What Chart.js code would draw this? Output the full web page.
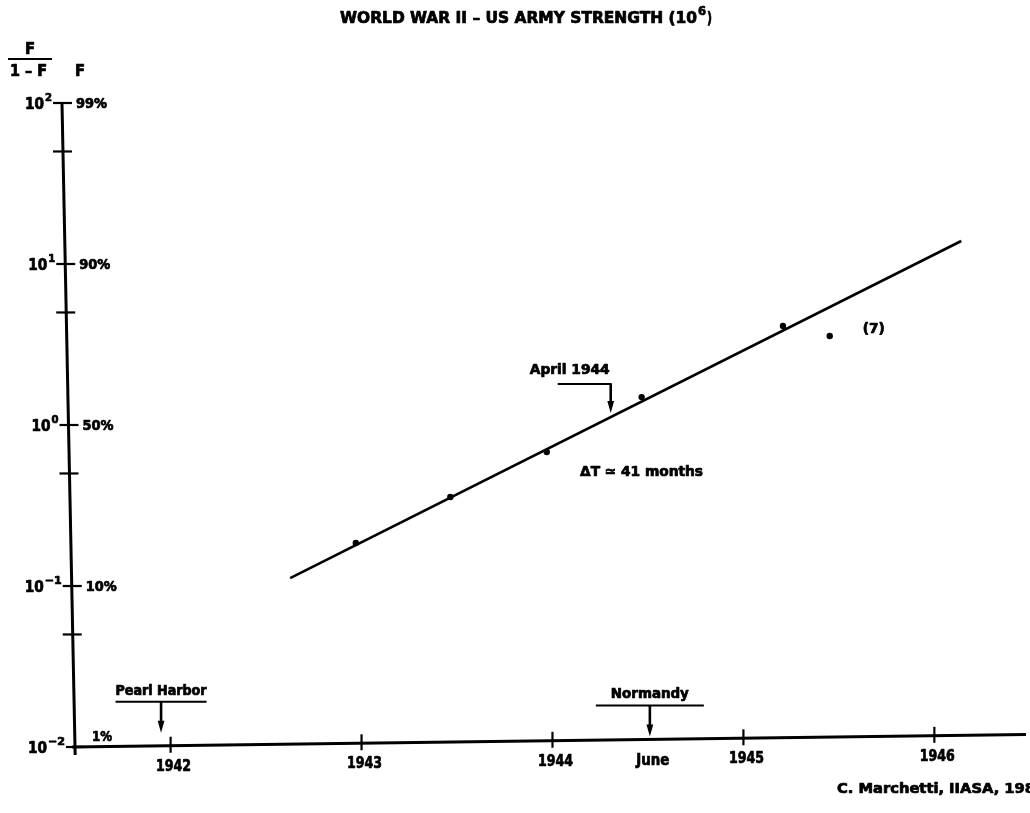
<!DOCTYPE html>
<html>
<head>
<meta charset="utf-8">
<script src="https://cdn.jsdelivr.net/npm/chart.js@4.4.1/dist/chart.umd.min.js"></script>
<style>
  html, body { margin: 0; padding: 0; background: #fff; }
  canvas { display: block; }
</style>
</head>
<body>
<canvas id="chart" width="1030" height="813"></canvas>
<script>
// Army strength expressed as F/(1-F), dated in decimal years
const obsYears = [1942.97, 1943.465, 1943.97, 1944.467, 1945.207, 1945.452];
const obsRatio = [0.185, 0.357, 0.68, 1.49, 4.12, 3.57];

// Fitted logistic: a straight line on the Fisher-Pry scale
const fitYears = [1942.626, 1946.141];
const fitRatio = [0.112, 13.9];

// Time axis
const yearTicks = [1942, 1943, 1944, 1945, 1946];
const xLabelValues = [1942, 1943, 1944, 1944.51, 1945, 1946];
const xLabelTexts = ['1942', '1943', '1944', 'June', '1945', '1946'];

// Fisher-Pry axis: F/(1-F) on the left, F on the right
const yMajorTicks = [100, 10, 1, 0.1, 0.01];
const yExponents = ['2', '1', '0', '\u22121', '\u22122'];
const yPercentLabels = ['99%', '90%', '50%', '10%', '1%'];
const yMinorTicks = [50, 5, 0.5, 0.05];

// Events marked along the time axis
const eventNames = ['Pearl Harbor', 'April 1944', 'Normandy'];
const eventYears = [1941.95, 1944.305, 1944.51];

const FONT = '"DejaVu Sans Condensed","Liberation Sans Narrow","DejaVu Sans",sans-serif';
const INK = '#000';
const Y_AXIS_LEAN = 0.0202;   // hand-drawn axes are not quite square
const X_AXIS_LEAN = 0.013;

function fitText(ctx, text, x, y, width, size, align) {
  ctx.save();
  ctx.font = 'bold ' + size + 'px ' + FONT;
  ctx.textBaseline = 'middle';
  ctx.textAlign = 'left';
  const w = ctx.measureText(text).width;
  const s = width / w;
  const left = align === 'center' ? x - width / 2 : (align === 'right' ? x - width : x);
  ctx.translate(left, y);
  ctx.scale(s, 1);
  ctx.fillStyle = INK;
  ctx.strokeStyle = INK;
  ctx.lineWidth = 0.7;
  ctx.lineJoin = 'round';
  ctx.fillText(text, 0, 0);
  ctx.strokeText(text, 0, 0);
  ctx.restore();
}

function downArrow(ctx, x, y0, y1) {
  ctx.save();
  ctx.strokeStyle = INK;
  ctx.fillStyle = INK;
  ctx.lineWidth = 2.6;
  ctx.beginPath();
  ctx.moveTo(x, y0);
  ctx.lineTo(x, y1 - 8);
  ctx.stroke();
  ctx.beginPath();
  ctx.moveTo(x - 3.4, y1 - 12);
  ctx.lineTo(x + 3.4, y1 - 12);
  ctx.lineTo(x, y1);
  ctx.closePath();
  ctx.fill();
  ctx.restore();
}

function hline(ctx, x0, x1, y, w) {
  ctx.save();
  ctx.strokeStyle = INK;
  ctx.lineWidth = w || 2;
  ctx.beginPath();
  ctx.moveTo(x0, y);
  ctx.lineTo(x1, y);
  ctx.stroke();
  ctx.restore();
}

// Axes, ticks and lettering drawn with the chart's own scales
const frame = {
  id: 'frame',
  afterDatasetsDraw(chart) {
    const ctx = chart.ctx;
    const ca = chart.chartArea;
    const xs = chart.scales.x;
    const ys = chart.scales.y;
    const yAxisX = py => ca.left + 1 + Y_AXIS_LEAN * (py - ca.bottom);
    const xAxisY = px => ca.bottom - X_AXIS_LEAN * (px - ca.left);

    ctx.save();
    ctx.strokeStyle = INK;
    ctx.lineCap = 'butt';

    // vertical axis
    ctx.lineWidth = 3;
    ctx.beginPath();
    ctx.moveTo(yAxisX(ca.top), ca.top);
    ctx.lineTo(yAxisX(ca.bottom + 8), ca.bottom + 8);
    ctx.stroke();

    // horizontal axis
    ctx.beginPath();
    ctx.moveTo(ca.left - 2, xAxisY(ca.left - 2));
    ctx.lineTo(ca.right, xAxisY(ca.right));
    ctx.stroke();

    // vertical axis ticks and labels
    ctx.lineWidth = 2.2;
    yMajorTicks.forEach((v, i) => {
      const py = ys.getPixelForValue(v);
      const ax = yAxisX(py);
      ctx.beginPath();
      ctx.moveTo(ax - 9, py);
      ctx.lineTo(ax + 10, py);
      ctx.stroke();
      const last = i === yMajorTicks.length - 1;
      const supW = yExponents[i].length > 1 ? 17 : 7;
      const right = ax - 10;
      fitText(ctx, '10', right - supW - 1, py + 2, 19, 16, 'right');
      fitText(ctx, yExponents[i], right - supW, py - 5, supW, 11, 'left');
      if (last) {
        fitText(ctx, yPercentLabels[i], ax + 17, py - 10, 20, 14, 'left');
      } else {
        fitText(ctx, yPercentLabels[i], ax + 14, py + 1, 31, 14, 'left');
      }
    });
    yMinorTicks.forEach(v => {
      const py = ys.getPixelForValue(v);
      const ax = yAxisX(py);
      ctx.beginPath();
      ctx.moveTo(ax - 10, py);
      ctx.lineTo(ax + 9, py);
      ctx.stroke();
    });

    // time axis ticks and labels
    yearTicks.forEach(v => {
      const px = xs.getPixelForValue(v);
      const ay = xAxisY(px);
      ctx.beginPath();
      ctx.moveTo(px, ay - 9);
      ctx.lineTo(px, ay + 7);
      ctx.stroke();
    });
    xLabelValues.forEach((v, i) => {
      const px = xs.getPixelForValue(v);
      const ay = xAxisY(px);
      fitText(ctx, xLabelTexts[i], px + 3, ay + 21, xLabelTexts[i] === 'June' ? 33 : 35, 16, 'center');
    });
    ctx.restore();

    // events: Pearl Harbor and Normandy point at the time axis
    [0, 2].forEach(i => {
      const px = xs.getPixelForValue(eventYears[i]);
      const ay = xAxisY(px);
      const half = i === 0 ? 45.5 : 54;
      const textW = i === 0 ? 91 : 78;
      const barY = i === 0 ? ay - 44 : ay - 34;
      fitText(ctx, eventNames[i], px, barY - 11, textW, 14, 'center');
      hline(ctx, px - half, px + half, barY, 2);
      downArrow(ctx, px, barY, i === 0 ? ay - 13 : ay - 3);
    });

    // April 1944: arrow points at the fitted line
    {
      const x = eventYears[1];
      const t = (x - fitYears[0]) / (fitYears[1] - fitYears[0]);
      const logV = Math.log10(fitRatio[0]) + t * (Math.log10(fitRatio[1]) - Math.log10(fitRatio[0]));
      const px = xs.getPixelForValue(x);
      const py = ys.getPixelForValue(Math.pow(10, logV));
      const barY = py - 33;
      fitText(ctx, eventNames[1], px - 41, barY - 14, 80, 14, 'center');
      hline(ctx, px - 53, px + 1, barY, 2);
      downArrow(ctx, px, barY, py - 4);
    }

    // slope note and the flagged late point
    fitText(ctx, '\u0394T \u2243 41 months', 580, 472, 123, 14, 'left');
    const p7x = xs.getPixelForValue(obsYears[5]);
    const p7y = ys.getPixelForValue(obsRatio[5]);
    fitText(ctx, '(7)', p7x + 33, p7y - 7, 22, 14, 'left');

    // title and axis headings
    fitText(ctx, 'WORLD WAR II \u2013 US ARMY STRENGTH (10', 340, 19, 357, 16, 'left');
    fitText(ctx, '6', 698, 12, 8, 12, 'left');
    fitText(ctx, ')', 707, 19, 5, 16, 'left');

    fitText(ctx, 'F', 30, 50, 10, 15, 'center');
    hline(ctx, 8, 52, 59, 2);
    fitText(ctx, '1 \u2013 F', 28.5, 72, 37, 15, 'center');
    fitText(ctx, 'F', 80, 72, 10, 15, 'center');

    // credit line
    fitText(ctx, 'C. Marchetti, IIASA, 198', 837, 789, 198, 14, 'left');
  }
};

const fitPoints = fitYears.map((x, i) => ({ x: x, y: fitRatio[i] }));
const obsPoints = obsYears.map((x, i) => ({ x: x, y: obsRatio[i] }));

new Chart(document.getElementById('chart'), {
  type: 'scatter',
  data: {
    datasets: [
      {
        label: 'Logistic fit',
        data: fitPoints,
        showLine: true,
        borderColor: INK,
        borderWidth: 2.6,
        pointRadius: 0,
        fill: false
      },
      {
        label: 'US Army strength',
        data: obsPoints,
        backgroundColor: INK,
        borderColor: INK,
        borderWidth: 0,
        pointRadius: 3.2
      }
    ]
  },
  options: {
    responsive: false,
    animation: false,
    events: [],
    layout: { padding: { left: 74, right: 0, top: 103, bottom: 66 } },
    plugins: {
      legend: { display: false },
      tooltip: { enabled: false },
      title: { display: false }
    },
    scales: {
      x: { type: 'linear', min: 1941.494, max: 1946.48, display: false },
      y: { type: 'logarithmic', min: 0.01, max: 100, display: false }
    }
  },
  plugins: [frame]
});
</script>
</body>
</html>
